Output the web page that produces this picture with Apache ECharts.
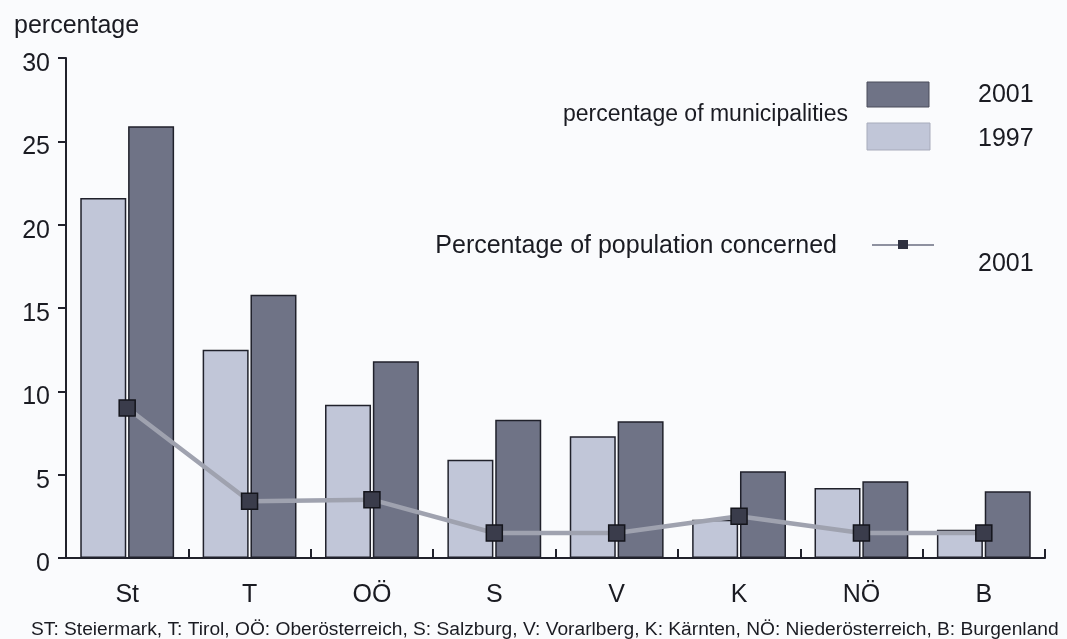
<!DOCTYPE html>
<html><head><meta charset="utf-8">
<script src="https://cdn.jsdelivr.net/npm/echarts@6/dist/echarts.min.js"></script>
<style>html,body{margin:0;padding:0;background:#fafbfd}#c{width:1067px;height:639px}</style>
</head><body><div id="c"></div>
<script>
const categories = ['St', 'T', 'OÖ', 'S', 'V', 'K', 'NÖ', 'B'];
const muni1997 = [21.6, 12.5, 9.2, 5.9, 7.3, 2.3, 4.2, 1.7];
const muni2001 = [25.9, 15.8, 11.8, 8.3, 8.2, 5.2, 4.6, 4.0];
const pop2001 = [9.0, 3.4, 3.5, 1.5, 1.5, 2.5, 1.5, 1.5];
const yMin = 0, yMax = 30, yStep = 5;
const yTitle = 'percentage';
const legendMuni = 'percentage of municipalities';
const legendPop = 'Percentage of population concerned';
const year2001 = '2001', year1997 = '1997';
const footnote = 'ST: Steiermark, T: Tirol, OÖ: Oberösterreich, S: Salzburg, V: Vorarlberg, K: Kärnten, NÖ: Niederösterreich, B: Burgenland';

const FONT = '"Liberation Sans", Arial, sans-serif';
const DARK = '#6f7386', LIGHT = '#c1c6d8', EDGE = '#20212b', TXT = '#1a1b22';

function txt(x, y, text, size, align) {
  return { type: 'text', x: x, y: y, style: { text: text, font: size + 'px ' + FONT, fill: TXT, align: align || 'left', verticalAlign: 'middle' } };
}

const chart = echarts.init(document.getElementById('c'));
chart.setOption({
  backgroundColor: '#fafbfd',
  animation: false,
  textStyle: { fontFamily: FONT },
  grid: { left: 66, right: 22, top: 58, bottom: 81 },
  xAxis: {
    type: 'category', data: categories, boundaryGap: true,
    axisLine: { lineStyle: { color: EDGE, width: 2 } },
    axisTick: { show: true, inside: true, length: 9, interval: 0, lineStyle: { color: EDGE, width: 2 } },
    axisLabel: { fontSize: 25, color: TXT, margin: 25, fontFamily: FONT }
  },
  yAxis: {
    type: 'value', min: yMin, max: yMax, interval: yStep,
    splitLine: { show: false },
    axisLine: { show: true, lineStyle: { color: EDGE, width: 2 } },
    axisTick: { show: true, inside: false, length: 8, lineStyle: { color: EDGE, width: 2 } },
    axisLabel: { fontSize: 25, color: TXT, margin: 16, fontFamily: FONT, verticalAlign: 'top', lineHeight: 12 }
  },
  series: [
    { name: '1997', type: 'bar', data: muni1997, barWidth: 46, barGap: '4%',
      itemStyle: { color: LIGHT, borderColor: EDGE, borderWidth: 1.5 }, z: 2 },
    { name: '2001', type: 'bar', data: muni2001, barWidth: 46, barGap: '4%',
      itemStyle: { color: DARK, borderColor: EDGE, borderWidth: 1.5 }, z: 2 },
    { name: 'pop', type: 'line', data: pop2001, symbol: 'rect', symbolSize: 16,
      lineStyle: { color: '#9fa2af', width: 4.5 },
      itemStyle: { color: '#3a3c4b', borderColor: '#14151c', borderWidth: 1.5 }, z: 5 }
  ],
  graphic: [
    txt(14, 26, yTitle, 25),
    txt(848, 115, legendMuni, 23, 'right'),
    { type: 'rect', shape: { x: 867, y: 82, width: 62, height: 25 }, style: { fill: DARK, stroke: '#4a4c5a', lineWidth: 1 } },
    { type: 'rect', shape: { x: 867, y: 123, width: 63, height: 27 }, style: { fill: LIGHT, stroke: '#a7abbb', lineWidth: 1 } },
    txt(978, 95, year2001, 25),
    txt(978, 139, year1997, 25),
    txt(837, 246, legendPop, 25, 'right'),
    { type: 'line', shape: { x1: 872, y1: 245, x2: 934, y2: 245 }, style: { stroke: '#8e91a0', lineWidth: 2 } },
    { type: 'rect', shape: { x: 898, y: 240, width: 10, height: 9 }, style: { fill: '#2f3140' } },
    txt(978, 264, year2001, 25),
    txt(31, 630, footnote, 19.2)
  ]
});
</script></body></html>
